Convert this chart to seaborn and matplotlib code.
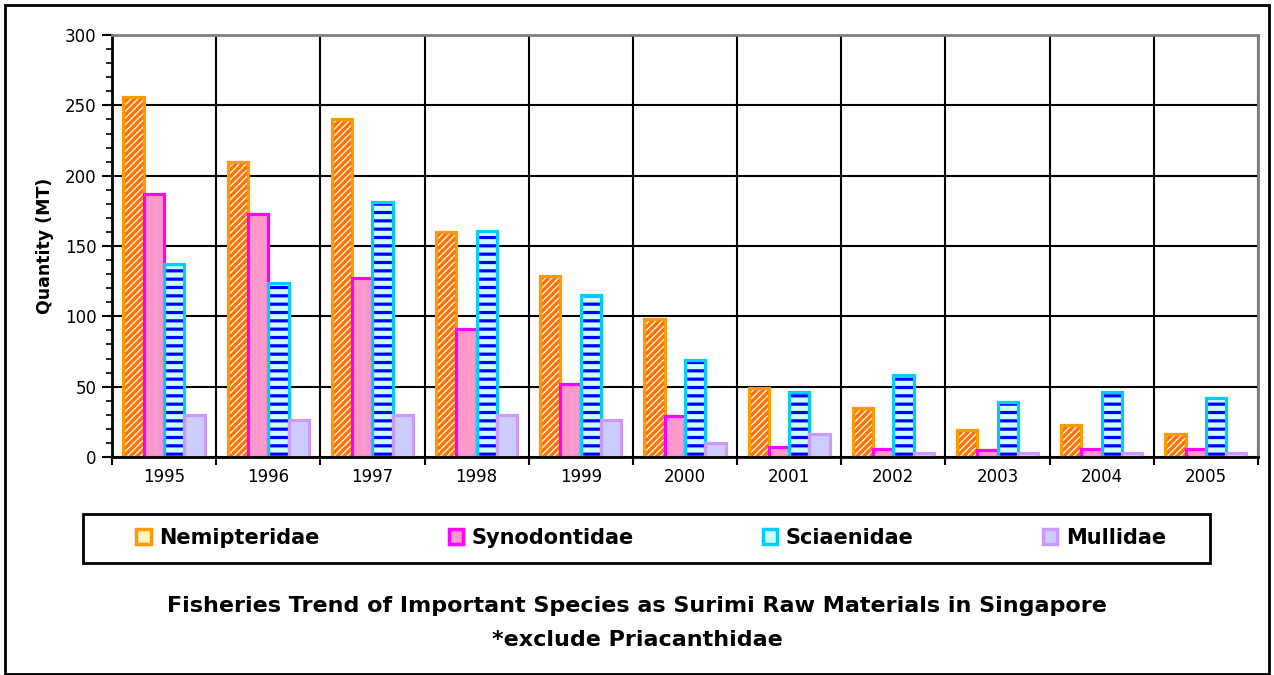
import matplotlib
matplotlib.use("Agg")
import matplotlib.pyplot as plt
import seaborn as sns
import pandas as pd
import numpy as np
from matplotlib.patches import Rectangle
from matplotlib.ticker import MultipleLocator, FixedLocator

years = ["1995", "1996", "1997", "1998", "1999", "2000", "2001", "2002", "2003", "2004", "2005"]
species = ["Nemipteridae", "Synodontidae", "Sciaenidae", "Mullidae"]
nemipteridae = [256, 210, 240, 160, 129, 98, 49, 35, 19, 23, 16]
synodontidae = [187, 173, 127, 91, 52, 29, 7, 6, 5, 6, 6]
sciaenidae = [137, 124, 181, 161, 115, 69, 46, 58, 39, 46, 42]
mullidae = [30, 26, 30, 30, 26, 10, 16, 3, 3, 3, 3]

rows = []
for sp, vals in zip(species, [nemipteridae, synodontidae, sciaenidae, mullidae]):
    for y, v in zip(years, vals):
        rows.append({"Year": y, "Species": sp, "Quantity": v})
df = pd.DataFrame(rows)

styles = {
    "Nemipteridae": dict(face="#FFF0C0", hatch="/////", hcol="#FF7010", edge="#FF9900"),
    "Synodontidae": dict(face="#FF99CC", hatch="", hcol="#FF99CC", edge="#FF00FF"),
    "Sciaenidae": dict(face="#CCFFFF", hatch="--", hcol="#0000FF", edge="#00CCFF"),
    "Mullidae": dict(face="#CCCCFF", hatch="", hcol="#CCCCFF", edge="#CC99FF"),
}

sns.set_theme(style="white")
plt.rcParams["font.family"] = ["DejaVu Sans"]
plt.rcParams["hatch.linewidth"] = 2.3
plt.rcParams["text.color"] = "black"
plt.rcParams["axes.labelcolor"] = "black"
plt.rcParams["xtick.color"] = "black"
plt.rcParams["ytick.color"] = "black"

fig = plt.figure(figsize=(12.74, 6.75), dpi=100)
ax = fig.add_axes([0.0879, 0.323, 0.8995, 0.625])

sns.barplot(data=df, x="Year", y="Quantity", hue="Species", order=years,
            hue_order=species, palette=[styles[s]["face"] for s in species],
            width=0.78, ax=ax, legend=False, saturation=1)

for sp, cont in zip(species, ax.containers):
    st = styles[sp]
    for p in cont.patches:
        p.set_facecolor(st["face"])
        p.set_hatch(st["hatch"])
        p.set_edgecolor(st["hcol"])
        p.set_linewidth(0)
        outline = Rectangle((p.get_x(), p.get_y()), p.get_width(), p.get_height(),
                            fill=False, edgecolor=st["edge"], linewidth=2.3,
                            joinstyle="miter", zorder=p.get_zorder() + 0.5)
        ax.add_patch(outline)

ax.set_ylim(0, 300)
ax.set_xlim(-0.5, len(years) - 0.5)
ax.yaxis.set_major_locator(MultipleLocator(50))
ax.yaxis.set_minor_locator(MultipleLocator(10))
ax.xaxis.set_minor_locator(FixedLocator(np.arange(-0.5, len(years), 1.0)))

ax.grid(False)
ax.grid(True, which="major", axis="y", color="black", linewidth=1.5)
ax.grid(True, which="minor", axis="x", color="black", linewidth=1.5)
ax.set_axisbelow(True)

ax.tick_params(axis="y", which="major", direction="out", length=7, width=1.5, color="black",
               labelsize=12, left=True, pad=4)
ax.tick_params(axis="y", which="minor", direction="out", length=4, width=1.2, color="black", left=True)
ax.tick_params(axis="x", which="major", length=0, labelsize=12, pad=8)
ax.tick_params(axis="x", which="minor", direction="out", length=6, width=1.5, color="black", bottom=True)

for side in ["left", "bottom"]:
    ax.spines[side].set_color("black")
    ax.spines[side].set_linewidth(2)
for side in ["top", "right"]:
    ax.spines[side].set_color("#808080")
    ax.spines[side].set_linewidth(2)

ax.set_xlabel("")
ax.set_ylabel("Quantity (MT)", fontsize=12.5, fontweight="bold", labelpad=8)

# legend box
fig.patches.append(Rectangle((83 / 1274, 1 - 563 / 675), 1127 / 1274, 49 / 675,
                             transform=fig.transFigure, fill=False, edgecolor="black",
                             linewidth=2, zorder=5))
handles = [Rectangle((0, 0), 1, 1, facecolor=styles[s]["face"], edgecolor=styles[s]["edge"],
                     linewidth=2.5) for s in species]
leg = fig.legend(handles, species, loc="center", ncol=4,
                 bbox_to_anchor=(651 / 1274, 1 - 538 / 675),
                 frameon=False, prop={"weight": "bold", "size": 15},
                 handlelength=0.7, handleheight=0.7, handletextpad=0.4,
                 columnspacing=6.2, borderaxespad=0, borderpad=0)

fig.text(0.5, 1 - 606 / 675, "Fisheries Trend of Important Species as Surimi Raw Materials in Singapore",
         ha="center", va="center", fontsize=16, fontweight="bold")
fig.text(0.5, 1 - 640 / 675, "*exclude Priacanthidae",
         ha="center", va="center", fontsize=16, fontweight="bold")

fig.patches.append(Rectangle((5 / 1274, 0.002), 1 - 10 / 1274, 1 - 5 / 675 - 0.002,
                             transform=fig.transFigure, fill=False, edgecolor="black",
                             linewidth=2, zorder=10))

fig.savefig("out.png", dpi=100)
